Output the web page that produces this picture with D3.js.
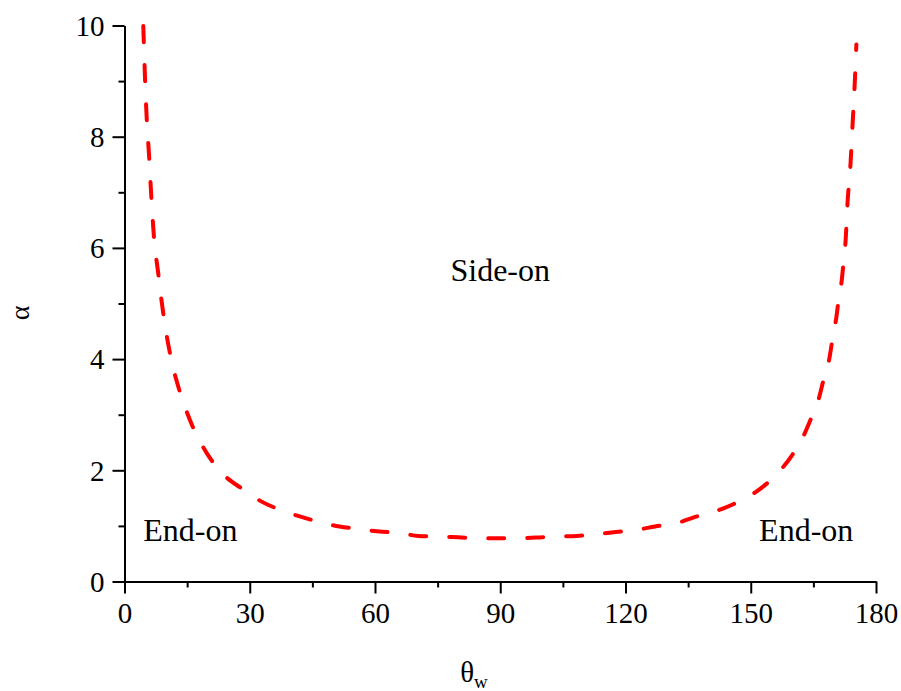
<!DOCTYPE html>
<html lang="en">
<head>
  <meta charset="UTF-8">
  <title>alpha vs theta_w</title>
  <style>
    body { margin: 0; background: #fff; }
    text { font-family: "Liberation Serif", "Times New Roman", serif; }
  </style>
</head>
<body>
  <svg id="svg" width="901" height="691"></svg>

  <script src="https://d3js.org/d3.v7.min.js"></script>
  <script>
    // values
    const theta = [4.5, 4.9, 5.3, 5.9, 6.4, 7.0, 8.1, 9.3, 10.9, 13.3, 15.7, 16.9, 19.7, 23.1, 28.5,
      32.5, 38.0, 42.0, 47.2, 51.5, 56.4, 61.0, 66.0, 70.4, 75.2, 80.0, 84.7, 89.1, 94.3, 98.7,
      103.5, 108.3, 113.5, 117.7, 122.7, 127.1, 132.3, 136.2, 141.4, 145.8, 151.0, 155.4, 159.8,
      162.4, 164.6, 166.3, 167.6, 168.8, 169.6, 170.4, 171.1, 171.8, 172.3, 172.7, 173.2, 173.9,
      174.4, 174.9, 175.3]
    const alpha = [9.99, 9.08, 8.36, 7.64, 6.95, 6.25, 5.53, 4.81, 4.10, 3.40, 2.90, 2.69, 2.31, 1.97, 1.65,
      1.45, 1.27, 1.17, 1.06, 0.99, 0.94, 0.90, 0.87, 0.82, 0.81, 0.795, 0.78, 0.78, 0.78, 0.79,
      0.81, 0.82, 0.855, 0.89, 0.93, 0.99, 1.05, 1.15, 1.26, 1.39, 1.60, 1.87, 2.26,
      2.58, 2.96, 3.29, 3.68, 4.0, 4.37, 4.70, 5.09, 5.42, 5.80, 6.11, 6.83, 7.52,
      8.24, 8.95, 9.66]
    const xTicks = [0, 30, 60, 90, 120, 150, 180]
    const xMinor = [15, 45, 75, 105, 135, 165]
    const yTicks = [0, 2, 4, 6, 8, 10]
    const yMinor = [1, 3, 5, 7, 9]
    const regionLabels = [
      { text: 'Side-on', x: 90, y: 5.4, anchor: 'middle' },
      { text: 'End-on', x: 4.5, y: 0.72, anchor: 'start' },
      { text: 'End-on', x: 152, y: 0.72, anchor: 'start' }
    ]

    const data = theta.map((t, i) => ({ t: t, a: alpha[i] }))

    const svg = d3.select('#svg')

    const xscale = d3.scaleLinear()
      .domain([0, 180])
      .range([124.5, 876])

    const yscale = d3.scaleLinear()
      .domain([0, 10])
      .range([581.5, 25.5])

    const fontSize = 29

    // bottom axis
    svg.append('g')
      .attr('transform', `translate(0, ${yscale(0)})`)
      .call(d3.axisBottom(xscale).tickValues(xTicks).tickSize(12).tickSizeOuter(0).tickPadding(9))
    svg.append('g')
      .attr('transform', `translate(0, ${yscale(0)})`)
      .call(d3.axisBottom(xscale).tickValues(xMinor).tickSize(6).tickFormat(''))
      .select('.domain').remove()

    // left axis
    const left = svg.append('g')
      .attr('transform', `translate(${xscale(0)}, 0)`)
      .call(d3.axisLeft(yscale).tickValues(yTicks).tickSize(12).tickSizeOuter(0).tickPadding(8))
    svg.append('g')
      .attr('transform', `translate(${xscale(0)}, 0)`)
      .call(d3.axisLeft(yscale).tickValues(yMinor).tickSize(6).tickFormat(''))
      .select('.domain').remove()

    svg.selectAll('.domain, .tick line')
      .attr('stroke', '#000')
      .attr('stroke-width', 2)
    svg.selectAll('.tick text')
      .attr('font-family', '"Liberation Serif", serif')
      .attr('font-size', fontSize)
      .attr('fill', '#000')
    left.selectAll('.tick text').attr('dy', '0.34em')

    // curve
    const line = d3.line()
      .x(d => xscale(d.t))
      .y(d => yscale(d.a))
      .curve(d3.curveMonotoneX)

    svg.append('path')
      .datum(data)
      .attr('d', line)
      .attr('fill', 'none')
      .attr('stroke', '#ff0000')
      .attr('stroke-width', 4)
      .attr('stroke-linecap', 'round')
      .attr('stroke-dasharray', '16,23')

    // region labels
    svg.selectAll('.region')
      .data(regionLabels)
      .enter()
      .append('text')
      .attr('class', 'region')
      .attr('x', d => xscale(d.x))
      .attr('y', d => yscale(d.y))
      .attr('text-anchor', d => d.anchor)
      .attr('font-size', 32)
      .text(d => d.text)

    // axis titles
    svg.append('text')
      .attr('transform', 'translate(29, 313) rotate(-90)')
      .attr('text-anchor', 'middle')
      .attr('font-size', 28)
      .text('α')

    const xt = svg.append('text')
      .attr('x', 474)
      .attr('y', 682)
      .attr('text-anchor', 'middle')
      .attr('font-size', 29)
    xt.append('tspan').text('θ')
    xt.append('tspan').attr('font-size', 19).attr('dy', 6).text('w')
  </script>
</body>
</html>
